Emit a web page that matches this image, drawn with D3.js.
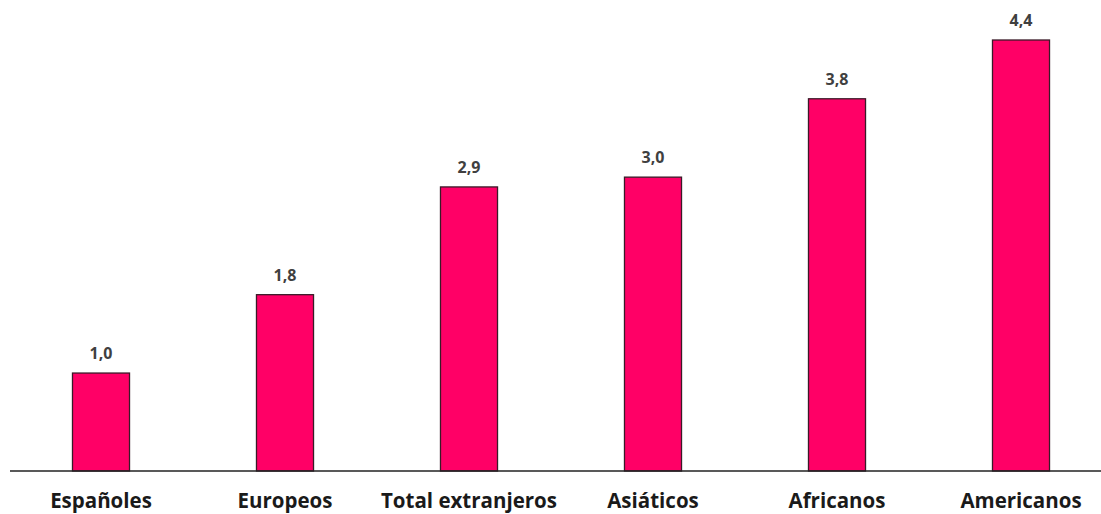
<!DOCTYPE html>
<html>
<head>
<meta charset="utf-8">
<script src="https://cdn.jsdelivr.net/npm/d3@7"></script>
<style>
  body { margin: 0; background: #fff; }
  svg { display: block; }
</style>
</head>
<body>
<svg width="1101" height="514"></svg>
<script>
var categories = ["Españoles", "Europeos", "Total extranjeros", "Asiáticos", "Africanos", "Americanos"];
var values = [1.0, 1.8, 2.9, 3.0, 3.8, 4.4];

var svg = d3.select("svg"),
    baseY = 471;

var x = d3.scaleBand()
    .domain(categories)
    .range([9, 1113])
    .paddingInner(0.69)
    .paddingOuter(0.345);

var y = d3.scaleLinear()
    .domain([0, 4.4])
    .range([baseY, 40]);

var fmt = function(v) { return d3.format(".1f")(v).replace(".", ","); };

svg.selectAll("rect.bar")
    .data(values)
    .enter().append("rect")
      .attr("class", "bar")
      .attr("x", function(d, i) { return x(categories[i]); })
      .attr("y", function(d) { return y(d); })
      .attr("width", x.bandwidth())
      .attr("height", function(d) { return baseY - y(d); })
      .attr("fill", "#ff0066")
      .attr("stroke", "#3a1a28")
      .attr("stroke-width", 1.3);

// baseline
svg.append("line")
    .attr("x1", 10).attr("x2", 1101)
    .attr("y1", baseY).attr("y2", baseY)
    .attr("stroke", "#222")
    .attr("stroke-width", 1.5);

svg.selectAll("text.val")
    .data(values)
    .enter().append("text")
      .attr("class", "val")
      .attr("x", function(d, i) { return x(categories[i]) + x.bandwidth() / 2; })
      .attr("y", function(d) { return y(d) - 14; })
      .attr("text-anchor", "middle")
      .attr("font-family", "'Open Sans', sans-serif")
      .attr("font-weight", "bold")
      .attr("font-size", 16)
      .attr("fill", "#404040")
      .text(fmt);

svg.selectAll("text.cat")
    .data(categories)
    .enter().append("text")
      .attr("class", "cat")
      .attr("x", function(d) { return x(d) + x.bandwidth() / 2; })
      .attr("y", 508)
      .attr("text-anchor", "middle")
      .attr("font-family", "'Open Sans', sans-serif")
      .attr("font-weight", "bold")
      .attr("font-size", 20.5)
      .attr("fill", "#1a1a1a")
      .text(function(d) { return d; });
</script>
</body>
</html>
